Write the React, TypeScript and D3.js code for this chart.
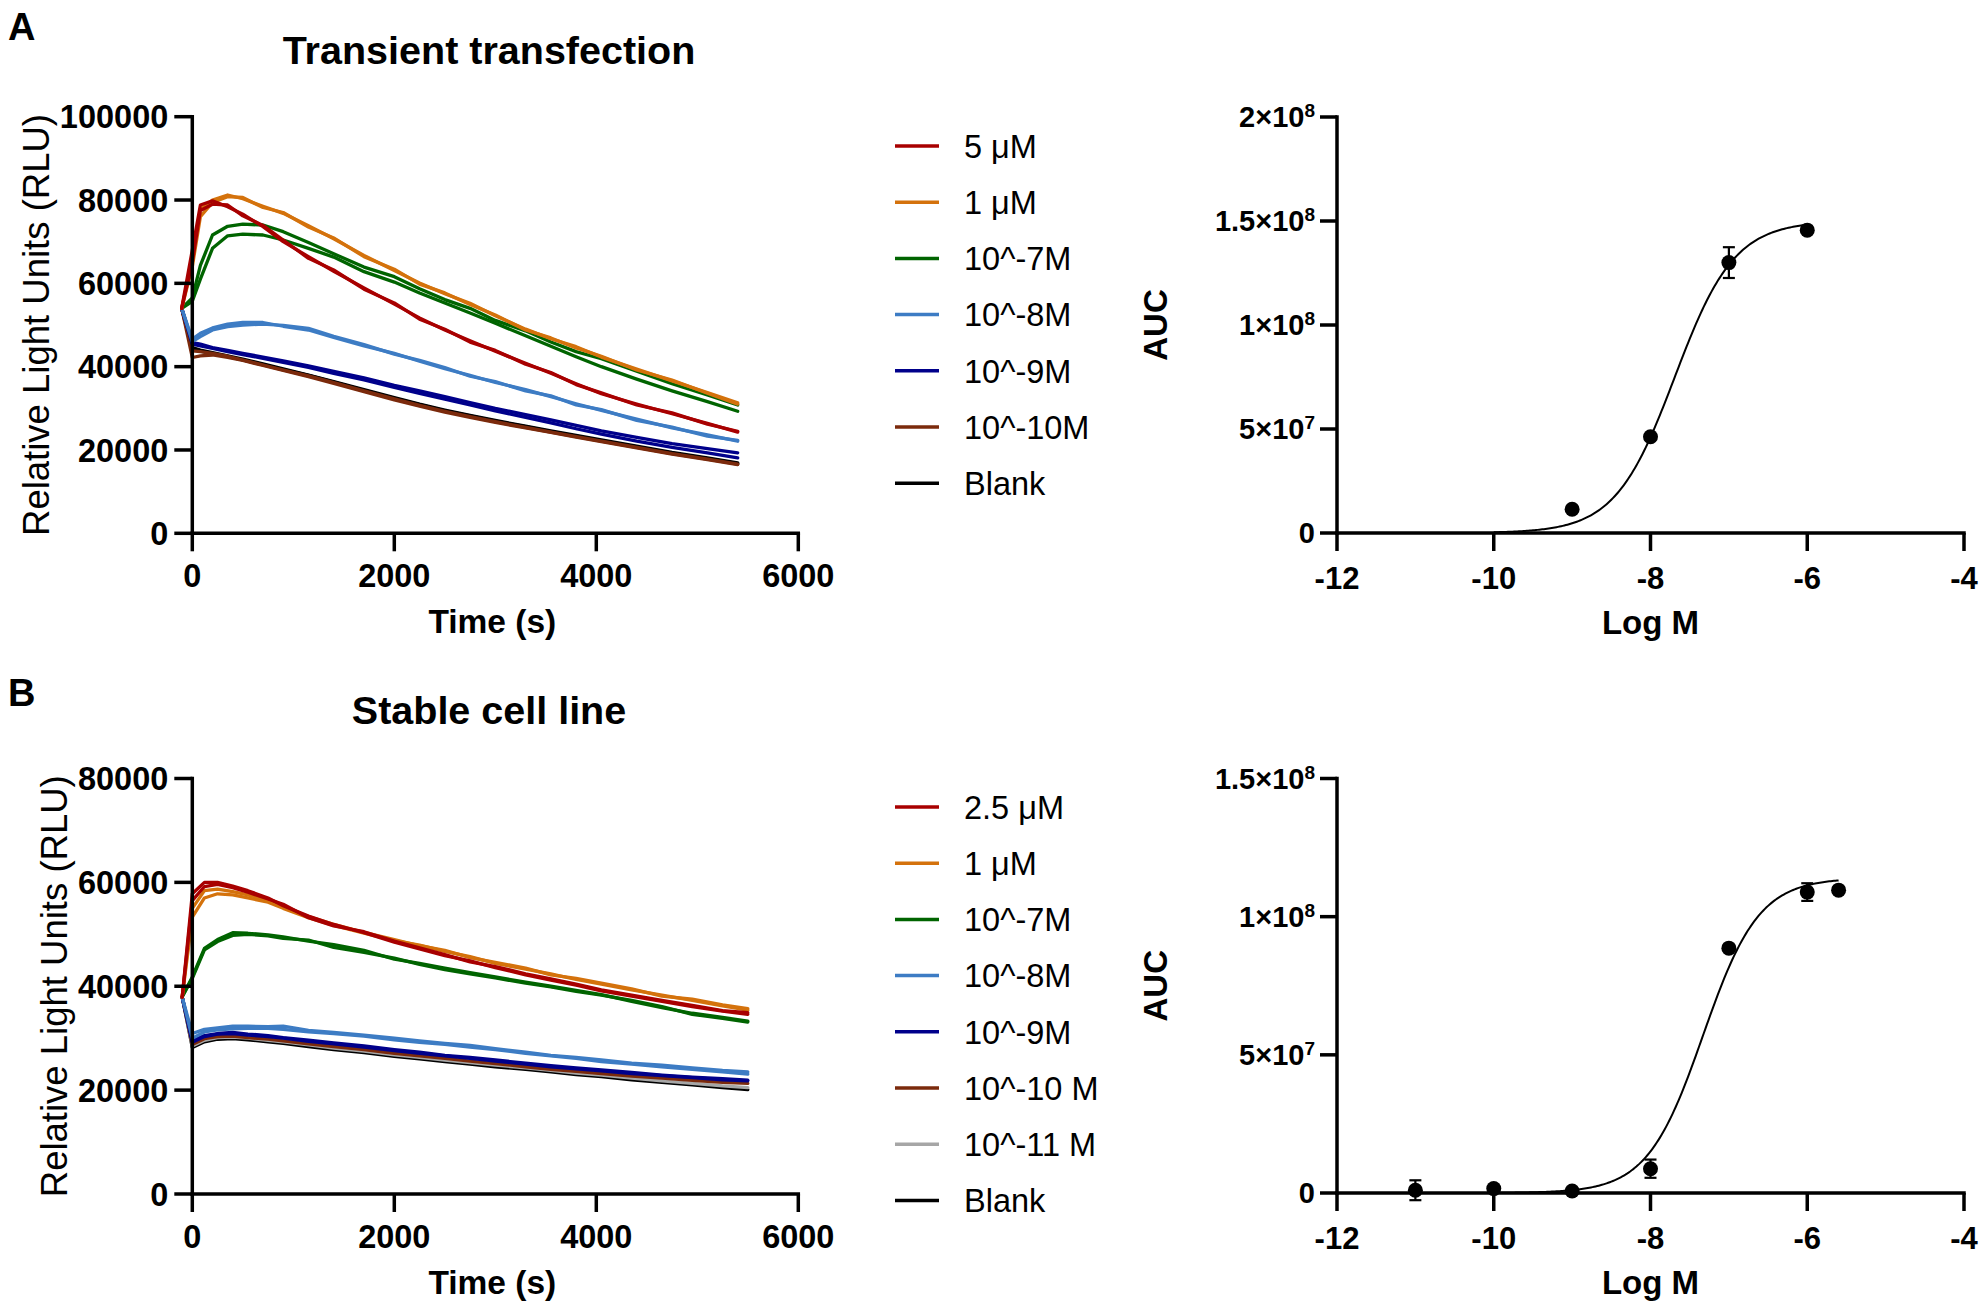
import React, { useEffect } from 'react';
import * as d3 from 'd3';

// ---------------- Panel A (transient transfection) kinetic data ----------------
const timeA = [-105, 0, 80, 200, 350, 500, 700, 900, 1150, 1400, 1700, 2000, 2250, 2500, 2750, 3000, 3300, 3550, 3800, 4050, 4400, 4750, 5100, 5400];

const a5uM_r1 = [54000, 68000, 78800, 79800, 78400, 76600, 73600, 70000, 66400, 62900, 58900, 55000, 51700, 48800, 46200, 43700, 40800, 38400, 35900, 33500, 31000, 28700, 26400, 24300];
const a5uM_r2 = [54000, 65000, 77500, 79000, 78800, 76200, 73900, 70400, 66000, 63200, 58600, 55300, 51400, 49000, 45900, 43900, 40600, 38600, 35700, 33700, 30800, 28900, 26200, 24500];
const a1uM_r1 = [54000, 66000, 77700, 80000, 81200, 80300, 78500, 76800, 73800, 70700, 66700, 63100, 60100, 57500, 55200, 52200, 49000, 46700, 44800, 42300, 39400, 36600, 33800, 31300];
const a1uM_r2 = [54000, 64000, 76000, 79400, 80800, 80600, 78200, 77000, 73500, 70900, 66400, 63400, 59800, 57700, 54900, 52400, 48800, 46900, 44500, 42500, 39200, 36800, 33600, 31000];
const aE7_r1 = [54000, 56500, 64300, 71600, 73700, 74200, 74000, 72400, 69800, 67100, 63900, 61600, 58700, 56100, 54000, 51100, 48600, 45900, 43600, 41900, 38900, 35900, 33200, 30800];
const aE7_r2 = [54000, 55700, 61000, 68400, 71400, 71800, 71600, 70400, 68400, 66300, 62800, 60300, 57700, 55300, 52900, 50400, 47400, 44900, 42400, 40000, 37000, 34200, 31600, 29300];
const aE8_r1 = [54000, 46600, 48000, 49300, 50200, 50600, 50600, 49700, 48800, 47000, 45000, 43200, 41300, 39500, 37900, 36200, 34500, 32800, 31100, 29500, 27400, 25300, 23600, 22100];
const aE8_r2 = [54000, 46000, 47200, 48800, 49600, 50000, 50200, 49900, 49200, 47300, 45300, 43000, 41500, 39800, 37700, 36400, 34200, 33000, 30800, 29700, 27100, 25500, 23300, 22300];
const aE9_r1 = [54000, 45800, 45400, 44600, 43900, 43200, 42300, 41400, 40200, 38900, 37300, 35500, 34200, 32800, 31400, 30000, 28500, 27200, 25900, 24600, 23000, 21500, 20300, 19300];
const aE9_r2 = [54000, 45400, 45000, 44400, 43600, 42900, 42000, 41000, 39800, 38400, 36800, 35000, 33600, 32200, 30800, 29400, 27800, 26500, 25100, 23800, 22100, 20600, 19300, 18100];
const aE10_r1 = [54000, 42200, 42600, 42800, 42200, 41500, 40300, 39100, 37600, 36000, 34000, 32000, 30500, 29100, 27800, 26600, 25300, 24200, 23100, 22000, 20500, 19000, 17700, 16500];
const aE10_r2 = [54000, 43800, 43600, 43200, 42500, 41600, 40400, 39200, 37800, 36200, 34200, 32300, 30700, 29300, 28000, 26800, 25400, 24300, 23200, 22100, 20600, 19100, 17800, 16600];
const aBlank_r1 = [54000, 44600, 44000, 43400, 42600, 41800, 40700, 39500, 38000, 36400, 34500, 32600, 31000, 29600, 28300, 27100, 25700, 24600, 23500, 22400, 20900, 19400, 18100, 16900];
const aBlank_r2 = [54000, 44200, 43700, 43100, 42400, 41600, 40500, 39300, 37900, 36300, 34300, 32400, 30900, 29400, 28200, 26900, 25600, 24400, 23300, 22200, 20700, 19200, 17900, 16700];

const legendA = ['5 μM', '1 μM', '10^-7M', '10^-8M', '10^-9M', '10^-10M', 'Blank'];
const colorsA = ['#A80000', '#D4720C', '#006400', '#3D7CC4', '#00008B', '#7B2A0C', '#000000'];

// ---------------- Panel B (stable cell line) kinetic data ----------------
const timeB = [-100, 0, 120, 250, 400, 550, 750, 900, 1150, 1400, 1700, 2000, 2250, 2500, 2750, 3000, 3300, 3550, 3800, 4050, 4350, 4650, 4950, 5250, 5500];

const b25uM_r1 = [37900, 57800, 60000, 60000, 59300, 58400, 57000, 55500, 53500, 51900, 50300, 48500, 47200, 45900, 44900, 43600, 42200, 41200, 40200, 39100, 38100, 37100, 36100, 35200, 34600];
const b25uM_r2 = [37900, 56500, 59200, 59600, 59000, 58100, 56800, 55800, 53200, 51600, 50500, 48700, 47400, 46100, 44700, 43800, 42400, 41400, 40400, 39300, 38300, 37300, 36300, 35300, 34900];
const b1uM_r1 = [37900, 53300, 57000, 57800, 57600, 57000, 56200, 55000, 53200, 51700, 50200, 48800, 47900, 46700, 45700, 44400, 43300, 42400, 41300, 40400, 39300, 38300, 37300, 36200, 35400];
const b1uM_r2 = [37900, 55000, 58400, 58700, 58200, 57600, 56600, 55200, 53400, 51900, 50400, 49000, 47800, 46900, 45500, 44600, 43500, 42200, 41500, 40600, 39500, 38100, 37500, 36400, 35700];
const bE7_r1 = [38000, 41800, 47300, 49000, 50300, 50200, 49900, 49500, 48700, 48000, 46900, 45200, 44400, 43500, 42600, 41800, 40800, 40000, 39200, 38400, 37100, 35900, 34800, 34000, 33300];
const bE7_r2 = [38000, 41500, 47000, 48600, 49800, 50000, 49700, 49200, 48900, 47500, 46500, 45400, 44200, 43200, 42400, 41600, 40600, 39900, 39000, 38300, 37300, 36100, 34600, 33800, 33100];
const bE8_r1 = [37900, 30900, 31700, 32000, 32300, 32300, 32200, 32300, 31500, 31100, 30600, 30000, 29500, 29000, 28600, 28000, 27300, 26700, 26300, 25800, 25200, 24800, 24300, 23800, 23500];
const bE8_r2 = [37900, 30000, 31200, 31600, 31800, 31900, 31900, 31700, 31200, 30900, 30400, 29700, 29200, 28800, 28300, 27800, 27100, 26600, 26100, 25500, 25000, 24500, 24000, 23500, 23100];
const bE9_r1 = [37900, 29200, 30300, 30800, 30900, 30600, 30300, 30000, 29400, 28900, 28300, 27600, 27100, 26600, 26100, 25600, 25000, 24500, 24100, 23700, 23200, 22800, 22400, 22000, 21800];
const bE9_r2 = [37900, 29500, 30500, 30900, 31100, 30800, 30500, 30100, 29600, 29100, 28500, 27800, 27300, 26700, 26300, 25800, 25200, 24700, 24300, 23900, 23400, 22900, 22500, 22200, 21900];
const bE10_r1 = [37900, 28800, 29900, 30300, 30400, 30100, 29800, 29500, 28900, 28400, 27800, 27100, 26600, 26100, 25600, 25100, 24500, 24000, 23600, 23200, 22700, 22300, 21900, 21500, 21300];
const bE11_r1 = [37900, 28500, 29600, 30100, 30200, 30000, 29600, 29300, 28700, 28100, 27500, 26800, 26300, 25800, 25300, 24800, 24300, 23800, 23300, 22900, 22300, 21800, 21300, 20800, 20500];
const bBlank_r1 = [37900, 28200, 29300, 29800, 29900, 29700, 29300, 29000, 28400, 27800, 27200, 26500, 26000, 25500, 25000, 24500, 24000, 23500, 23000, 22600, 22000, 21500, 21000, 20500, 20100];

const legendB = ['2.5 μM', '1 μM', '10^-7M', '10^-8M', '10^-9M', '10^-10 M', '10^-11 M', 'Blank'];
const colorsB = ['#A80000', '#D4720C', '#006400', '#3D7CC4', '#00008B', '#7B2A0C', '#A6A6A6', '#000000'];

// ---------------- AUC dose–response data ----------------
const aucA_logM = [-9, -8, -7, -6];
const aucA_mean = [1.14e7, 4.63e7, 1.3e8, 1.456e8];
const aucA_sem = [1.2e6, 1.2e6, 7.4e6, 1.0e6];
const fitA = { top: 1.5e8, bottom: 0, logEC50: -7.69, hill: 1.14, from: -10, to: -6 };

const aucB_logM = [-11, -10, -9, -8, -7, -6, -5.6];
const aucB_mean = [1.0e6, 1.6e6, 0.7e6, 8.8e6, 8.86e7, 1.089e8, 1.096e8];
const aucB_sem = [3.6e6, 1.0e6, 1.0e6, 3.3e6, 1.0e6, 3.2e6, 1.0e6];
const fitB = { top: 1.14e8, bottom: 0, logEC50: -7.33, hill: 1.22, from: -10, to: -5.6 };

const kinTicksX = [0, 2000, 4000, 6000];
const kinTicksYA = [0, 20000, 40000, 60000, 80000, 100000];
const kinTicksYB = [0, 20000, 40000, 60000, 80000];
const aucTicksX = [-12, -10, -8, -6, -4];
const aucTicksYA = [0, 5e7, 1e8, 1.5e8, 2e8];
const aucTicksYB = [0, 5e7, 1e8, 1.5e8];

const FONT = '"Liberation Sans", Arial, Helvetica, sans-serif';
const AX = 3.5;

type Series = { label: string; color: string; reps: number[][] };

const seriesA: Series[] = [
  { label: legendA[0], color: colorsA[0], reps: [a5uM_r1, a5uM_r2] },
  { label: legendA[1], color: colorsA[1], reps: [a1uM_r1, a1uM_r2] },
  { label: legendA[2], color: colorsA[2], reps: [aE7_r1, aE7_r2] },
  { label: legendA[3], color: colorsA[3], reps: [aE8_r1, aE8_r2] },
  { label: legendA[4], color: colorsA[4], reps: [aE9_r1, aE9_r2] },
  { label: legendA[5], color: colorsA[5], reps: [aE10_r1, aE10_r2] },
  { label: legendA[6], color: colorsA[6], reps: [aBlank_r1, aBlank_r2] },
];

const seriesB: Series[] = [
  { label: legendB[0], color: colorsB[0], reps: [b25uM_r1, b25uM_r2] },
  { label: legendB[1], color: colorsB[1], reps: [b1uM_r1, b1uM_r2] },
  { label: legendB[2], color: colorsB[2], reps: [bE7_r1, bE7_r2] },
  { label: legendB[3], color: colorsB[3], reps: [bE8_r1, bE8_r2] },
  { label: legendB[4], color: colorsB[4], reps: [bE9_r1, bE9_r2] },
  { label: legendB[5], color: colorsB[5], reps: [bE10_r1] },
  { label: legendB[6], color: colorsB[6], reps: [bE11_r1] },
  { label: legendB[7], color: colorsB[7], reps: [bBlank_r1] },
];

function KineticPanel(props: {
  times: number[]; series: Series[]; yMax: number; yTicks: number[];
  y0: number; y1: number; x0: number; x1: number; labelX: number;
  legendY: number;
}) {
  const { times, series, yMax, yTicks, y0, y1, x0, x1, labelX, legendY } = props;
  const x = d3.scaleLinear().domain([0, 6000]).range([x0, x1]);
  const y = d3.scaleLinear().domain([0, yMax]).range([y0, y1]);
  const line = d3.line<number>().x((_, i) => x(times[i])).y((d) => y(d));
  const drawOrder = [...series].reverse();
  return (
    <g>
      {drawOrder.map((s, si) =>
        s.reps.map((r, ri) => (
          <path key={`${si}-${ri}`} d={line(r) || ''} fill="none" stroke={s.color}
            strokeWidth={3.3} strokeLinejoin="round" strokeLinecap="round" />
        ))
      )}
      {/* axes */}
      <line x1={x0} x2={x0} y1={y0} y2={y1} stroke="#000" strokeWidth={AX} strokeLinecap="square" />
      <line x1={x0} x2={x1} y1={y0} y2={y0} stroke="#000" strokeWidth={AX} strokeLinecap="square" />
      {yTicks.map((t) => (
        <g key={`yt${t}`}>
          <line x1={x0 - 18} x2={x0} y1={y(t)} y2={y(t)} stroke="#000" strokeWidth={AX} />
          <text x={x0 - 24} y={y(t)} dy="0.36em" textAnchor="end" fontFamily={FONT}
            fontWeight="bold" fontSize={32.5}>{t}</text>
        </g>
      ))}
      {kinTicksX.map((t) => (
        <g key={`xt${t}`}>
          <line x1={x(t)} x2={x(t)} y1={y0} y2={y0 + 18} stroke="#000" strokeWidth={AX} />
          <text x={x(t)} y={y0 + 54} textAnchor="middle" fontFamily={FONT}
            fontWeight="bold" fontSize={32.5}>{t}</text>
        </g>
      ))}
      <text x={(x0 + x1) / 2 - 3} y={y0 + 100} textAnchor="middle" fontFamily={FONT}
        fontWeight="bold" fontSize={33.5}>Time (s)</text>
      <text transform={`translate(${labelX},${(y0 + y1) / 2}) rotate(-90)`} textAnchor="middle"
        dy="0.36em" fontFamily={FONT} fontSize={36.5}>Relative Light Units (RLU)</text>
      {/* legend */}
      {series.map((s, i) => (
        <g key={`lg${i}`}>
          <line x1={895} x2={939} y1={legendY + i * 56.2} y2={legendY + i * 56.2}
            stroke={s.color} strokeWidth={3.5} />
          <text x={964} y={legendY + i * 56.2} dy="0.36em" fontFamily={FONT}
            fontSize={32.5}>{s.label}</text>
        </g>
      ))}
    </g>
  );
}

function aucLabel(v: number) {
  if (v === 0) return { mant: '0', exp: '' };
  const e = Math.floor(Math.log10(v) + 1e-9);
  const m = +(v / Math.pow(10, e)).toFixed(2);
  return { mant: `${m}×10`, exp: `${e}` };
}

function AucPanel(props: {
  logM: number[]; mean: number[]; sem: number[];
  fit: { top: number; bottom: number; logEC50: number; hill: number; from: number; to: number };
  yMax: number; yTicks: number[]; y0: number; y1: number;
}) {
  const { logM, mean, sem, fit, yMax, yTicks, y0, y1 } = props;
  const x0 = 1337, x1 = 1964;
  const x = d3.scaleLinear().domain([-12, -4]).range([x0, x1]);
  const y = d3.scaleLinear().domain([0, yMax]).range([y0, y1]);
  const xs = d3.range(fit.from, fit.to + 1e-9, 0.02);
  const fitFn = (lx: number) =>
    fit.bottom + (fit.top - fit.bottom) / (1 + Math.pow(10, fit.hill * (fit.logEC50 - lx)));
  const curve = d3.line<number>().x((d) => x(d)).y((d) => y(fitFn(d)));
  return (
    <g>
      <line x1={x0} x2={x0} y1={y0} y2={y1} stroke="#000" strokeWidth={AX} strokeLinecap="square" />
      <line x1={x0} x2={x1} y1={y0} y2={y0} stroke="#000" strokeWidth={AX} strokeLinecap="square" />
      {yTicks.map((t) => {
        const lb = aucLabel(t);
        return (
          <g key={`ay${t}`}>
            <line x1={x0 - 17} x2={x0} y1={y(t)} y2={y(t)} stroke="#000" strokeWidth={AX} />
            <text x={x0 - 22} y={y(t)} dy="0.36em" textAnchor="end" fontFamily={FONT}
              fontWeight="bold" fontSize={29}>
              {lb.mant}
              {lb.exp && <tspan fontSize={19} dy={-10}>{lb.exp}</tspan>}
            </text>
          </g>
        );
      })}
      {aucTicksX.map((t) => (
        <g key={`ax${t}`}>
          <line x1={x(t)} x2={x(t)} y1={y0} y2={y0 + 18} stroke="#000" strokeWidth={AX} />
          <text x={x(t)} y={y0 + 56} textAnchor="middle" fontFamily={FONT}
            fontWeight="bold" fontSize={31}>{t}</text>
        </g>
      ))}
      <text x={(x0 + x1) / 2} y={y0 + 101} textAnchor="middle" fontFamily={FONT}
        fontWeight="bold" fontSize={33}>Log M</text>
      <text transform={`translate(1155,${(y0 + y1) / 2}) rotate(-90)`} textAnchor="middle"
        dy="0.36em" fontFamily={FONT} fontWeight="bold" fontSize={33}>AUC</text>
      <path d={curve(xs) || ''} fill="none" stroke="#000" strokeWidth={2} />
      {logM.map((lm, i) => (
        <g key={`pt${i}`}>
          <line x1={x(lm)} x2={x(lm)} y1={y(mean[i] - sem[i])} y2={y(mean[i] + sem[i])}
            stroke="#000" strokeWidth={2.2} />
          <line x1={x(lm) - 6} x2={x(lm) + 6} y1={y(mean[i] - sem[i])} y2={y(mean[i] - sem[i])}
            stroke="#000" strokeWidth={2.2} />
          <line x1={x(lm) - 6} x2={x(lm) + 6} y1={y(mean[i] + sem[i])} y2={y(mean[i] + sem[i])}
            stroke="#000" strokeWidth={2.2} />
          <circle cx={x(lm)} cy={y(mean[i])} r={7.5} fill="#000" />
        </g>
      ))}
    </g>
  );
}

export default function App() {
  useEffect(() => {
    document.body.style.margin = '0';
    document.body.style.overflow = 'hidden';
  }, []);
  return (
    <svg width={1980} height={1308} viewBox="0 0 1980 1308"
      style={{ position: 'absolute', left: 0, top: 0, display: 'block', background: '#fff' }}>
      <rect x={0} y={0} width={1980} height={1308} fill="#fff" />
      <text x={8} y={40} fontFamily={FONT} fontWeight="bold" fontSize={38}>A</text>
      <text x={489} y={64} textAnchor="middle" fontFamily={FONT} fontWeight="bold" fontSize={39.5}>
        Transient transfection
      </text>
      <text x={8} y={706} fontFamily={FONT} fontWeight="bold" fontSize={38}>B</text>
      <text x={489} y={724} textAnchor="middle" fontFamily={FONT} fontWeight="bold" fontSize={39.5}>
        Stable cell line
      </text>
      <KineticPanel times={timeA} series={seriesA} yMax={100000} yTicks={kinTicksYA}
        y0={533.3} y1={116.7} x0={192.3} x1={798.3} labelX={36} legendY={146} />
      <KineticPanel times={timeB} series={seriesB} yMax={80000} yTicks={kinTicksYB}
        y0={1194} y1={778.5} x0={192.3} x1={798.3} labelX={54} legendY={807} />
      <AucPanel logM={aucA_logM} mean={aucA_mean} sem={aucA_sem} fit={fitA}
        yMax={2e8} yTicks={aucTicksYA} y0={533} y1={117} />
      <AucPanel logM={aucB_logM} mean={aucB_mean} sem={aucB_sem} fit={fitB}
        yMax={1.5e8} yTicks={aucTicksYB} y0={1193} y1={778.5} />
    </svg>
  );
}
